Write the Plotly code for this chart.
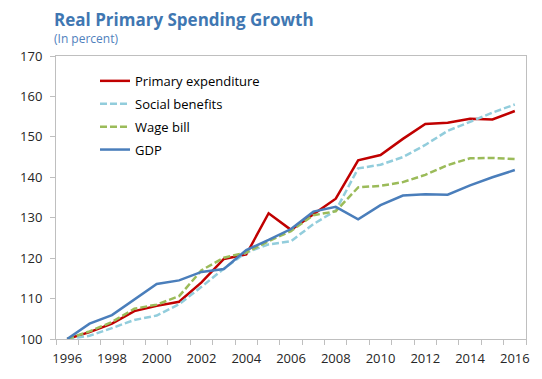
import plotly.graph_objects as go

years = list(range(1996, 2017))
primary_expenditure = [100, 101.7, 103.8, 106.9, 108.2, 109.2, 114.0, 119.8, 120.9, 131.1, 127.0, 130.8,
                       134.7, 144.2, 145.5, 149.5, 153.2, 153.5, 154.5, 154.3, 156.4]
social_benefits = [100, 100.8, 102.7, 104.7, 105.8, 108.6, 112.9, 117.4, 121.4, 123.4, 124.2, 128.4,
                   131.8, 142.2, 143.1, 145.0, 148.0, 151.5, 153.7, 156.0, 158.0]
wage_bill = [100, 101.9, 104.2, 107.5, 108.5, 110.6, 117.0, 120.1, 121.4, 124.2, 126.7, 130.6,
             131.6, 137.5, 137.9, 138.8, 140.6, 143.0, 144.7, 144.8, 144.5]
gdp = [100, 103.8, 105.9, 109.7, 113.6, 114.5, 116.6, 117.3, 122.0, 124.5, 127.2, 131.5,
       132.7, 129.6, 133.1, 135.5, 135.8, 135.7, 138.0, 140.0, 141.8]
tick_labels = [str(y) for y in range(1996, 2017, 2)]

series = [
    ("Primary expenditure", primary_expenditure, "#C00000", "solid"),
    ("Social benefits", social_benefits, "#92CDDC", "7px,3px"),
    ("Wage bill", wage_bill, "#9BBB59", "7px,3px"),
    ("GDP", gdp, "#4A7EBB", "solid"),
]

fig = go.Figure()
for name, vals, color, dash in series:
    fig.add_trace(go.Scatter(
        x=years, y=vals, name=name, mode="lines",
        line=dict(color=color, width=2.5, dash=dash),
        legendgroup=name,
    ))

axis_color = "#BFBFBF"
fig.update_layout(
    width=534, height=371,
    margin=dict(l=46, r=16, t=48, b=36),
    paper_bgcolor="white", plot_bgcolor="white",
    font=dict(family="Open Sans, DejaVu Sans, sans-serif", size=13, color="#262626"),
    showlegend=True,
    legend=dict(
        x=0.083, y=0.965, xanchor="left", yanchor="top",
        bgcolor="rgba(0,0,0,0)", font=dict(size=13, color="#000000"),
        traceorder="grouped", tracegroupgap=3,
    ),
    xaxis=dict(
        range=[1995.5, 2016.5],
        tickmode="array", tickvals=list(range(1996, 2017, 2)), ticktext=tick_labels,
        ticks="", showgrid=False, zeroline=False, ticklabelstandoff=7,
        showline=True, linecolor=axis_color, linewidth=1, mirror=True,
        minor=dict(ticks="outside", tick0=1995.5, dtick=1, ticklen=5, tickcolor=axis_color, showgrid=False),
        tickfont=dict(size=13, color="#262626"),
    ),
    yaxis=dict(
        range=[100, 170], dtick=10, tick0=100,
        ticks="outside", ticklen=5, tickcolor=axis_color, ticklabelstandoff=5,
        showgrid=False, zeroline=False,
        showline=True, linecolor=axis_color, linewidth=1, mirror=True,
        tickfont=dict(size=13, color="#262626"),
    ),
    annotations=[
        dict(text="<b>Real Primary Spending Growth</b>", xref="paper", yref="paper",
             x=-0.008, y=1.0, xanchor="left", yanchor="bottom", yshift=23,
             showarrow=False, font=dict(size=17, color="#3F77B2")),
        dict(text="(In percent)", xref="paper", yref="paper",
             x=-0.008, y=1.0, xanchor="left", yanchor="bottom", yshift=7,
             showarrow=False, font=dict(size=12, color="#4F81BD")),
    ],
)

fig.write_html("out.html")
